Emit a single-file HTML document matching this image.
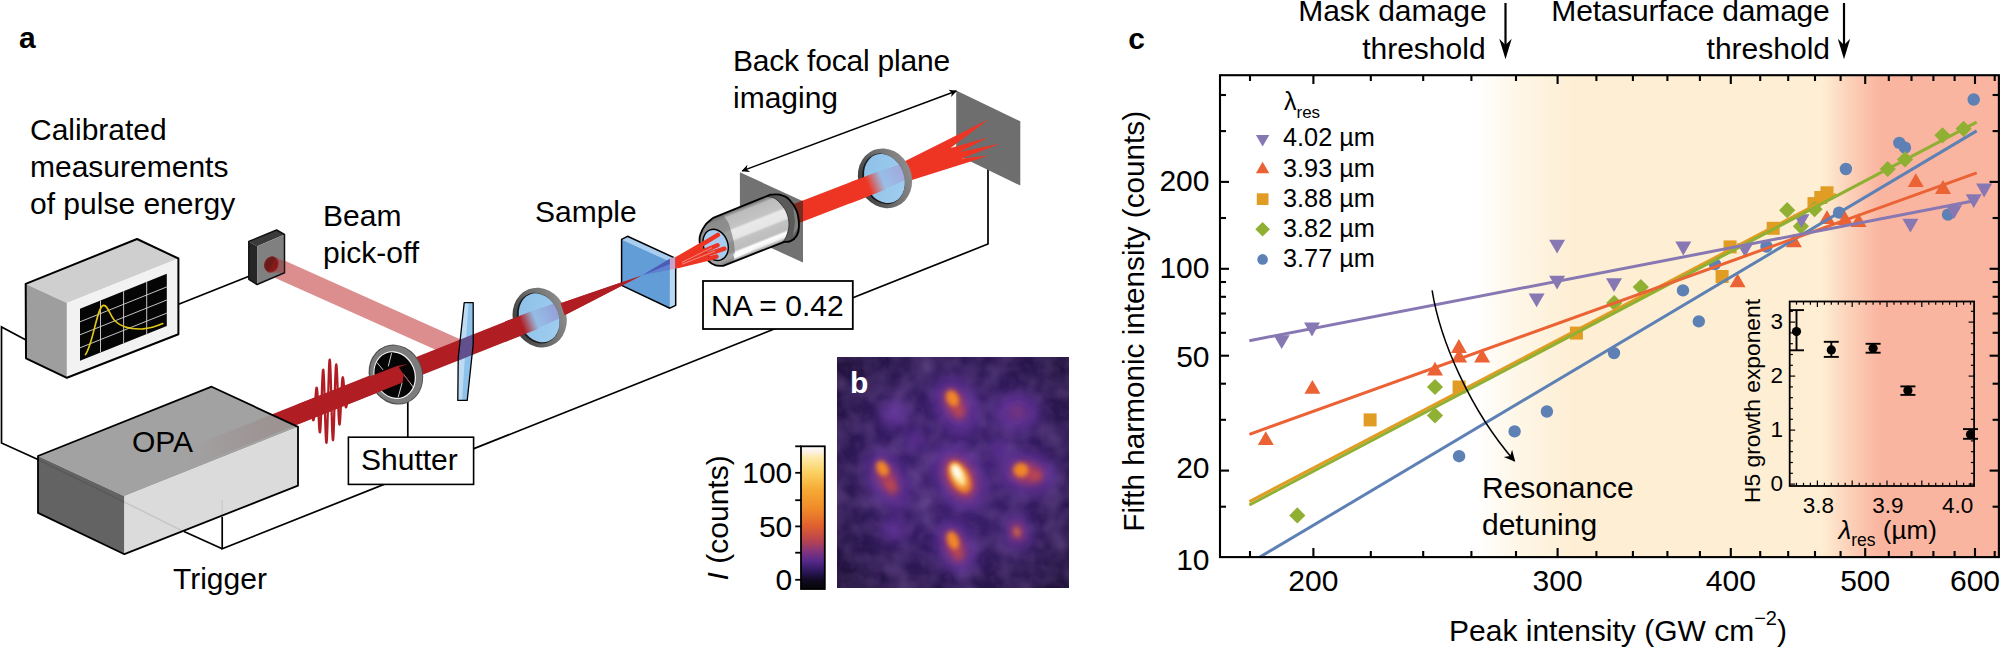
<!DOCTYPE html><html><head><meta charset="utf-8"><title>Figure</title>
<style>html,body{margin:0;padding:0;background:#fff;}svg{display:block;}text{font-family:"Liberation Sans", Arial, Helvetica, sans-serif;fill:#000;}</style></head><body>
<svg width="2000" height="647" viewBox="0 0 2000 647">
<rect width="2000" height="647" fill="#fff"/>
<defs>
<linearGradient id="bgc" gradientUnits="userSpaceOnUse" x1="1220" y1="0" x2="1999" y2="0">
<stop offset="0" stop-color="#ffffff"/>
<stop offset="0.3286" stop-color="#ffffff"/>
<stop offset="0.3851" stop-color="#fef6e6"/>
<stop offset="0.4557" stop-color="#feeed3"/>
<stop offset="0.7728" stop-color="#feeed3"/>
<stop offset="0.8087" stop-color="#fcd0b8"/>
<stop offset="0.8472" stop-color="#fab5a0"/>
<stop offset="1" stop-color="#fab5a0"/>
</linearGradient>
<linearGradient id="cbar" x1="0" y1="1" x2="0" y2="0">
<stop offset="0" stop-color="#050508"/>
<stop offset="0.06" stop-color="#100a20"/>
<stop offset="0.12" stop-color="#2a1758"/>
<stop offset="0.193" stop-color="#55288a"/>
<stop offset="0.254" stop-color="#7d3280"/>
<stop offset="0.34" stop-color="#b8444f"/>
<stop offset="0.439" stop-color="#df5f30"/>
<stop offset="0.562" stop-color="#f08a28"/>
<stop offset="0.70" stop-color="#f6ab35"/>
<stop offset="0.814" stop-color="#fad060"/>
<stop offset="0.92" stop-color="#fdeaa8"/>
<stop offset="0.97" stop-color="#fbf3ee"/>
<stop offset="1" stop-color="#ffffff"/>
</linearGradient>
<marker id="ah" viewBox="0 0 10 10" refX="9" refY="5" markerWidth="7.4" markerHeight="5.2" orient="auto-start-reverse"><path d="M0,0 L10,5 L0,10 L3,5 Z" fill="#000"/></marker><marker id="ah2" viewBox="0 0 10 10" refX="9" refY="5" markerWidth="9.6" markerHeight="7.4" orient="auto-start-reverse"><path d="M0,0 L10,5 L0,10 L3,5 Z" fill="#000"/></marker>
<filter id="blur4" x="-50%" y="-50%" width="200%" height="200%"><feGaussianBlur stdDeviation="4"/></filter>
<filter id="blur6" x="-50%" y="-50%" width="200%" height="200%"><feGaussianBlur stdDeviation="6"/></filter>
<filter id="blur3" x="-50%" y="-50%" width="200%" height="200%"><feGaussianBlur stdDeviation="3"/></filter>
<filter id="blur2" x="-50%" y="-50%" width="200%" height="200%"><feGaussianBlur stdDeviation="2.2"/></filter>
<filter id="noise" x="0" y="0" width="100%" height="100%"><feTurbulence type="fractalNoise" baseFrequency="0.045" numOctaves="2" seed="7" result="n"/><feColorMatrix in="n" type="matrix" values="0 0 0 0 0.42  0 0 0 0 0.24  0 0 0 0 0.62  1.6 0 0 0 -0.55"/></filter>
<filter id="noise2" x="0" y="0" width="100%" height="100%"><feTurbulence type="fractalNoise" baseFrequency="0.11" numOctaves="2" seed="3" result="n"/><feColorMatrix in="n" type="matrix" values="0 0 0 0 0.08  0 0 0 0 0.03  0 0 0 0 0.16  -1.8 0 0 0 1.0"/></filter>
<clipPath id="clipb"><rect x="837" y="357" width="232" height="231"/></clipPath>
<clipPath id="clipplot"><rect x="1220" y="75" width="780" height="482"/></clipPath>
</defs>
<g id="panelA">
<text x="19" y="48" font-size="30" font-weight="bold">a</text>
<text x="30" y="140" font-size="30">Calibrated</text>
<text x="30" y="177" font-size="30">measurements</text>
<text x="30" y="214" font-size="30">of pulse energy</text>
<text x="323" y="226" font-size="30">Beam</text>
<text x="323" y="263" font-size="30">pick-off</text>
<text x="535" y="221.5" font-size="30">Sample</text>
<text x="733" y="70.6" font-size="30" letter-spacing="-0.2">Back focal plane</text>
<text x="733" y="108.1" font-size="30">imaging</text>
<text x="173" y="589" font-size="30">Trigger</text>
<g fill="none" stroke="#000" stroke-width="1.7">
<path d="M988,168 L988,244 L222.2,548.8 L222.2,517"/>
<path d="M222.2,548.8 L184,531.5"/>
<path d="M26,340 L1.5,327 L1.5,443 L38,459.5"/>
<path d="M178,304.5 L249,276.3"/>
<path d="M407.8,400 L407.8,438"/>
</g>
<polygon points="268.0,253.2 463.5,340.7 463.5,362.3 268.0,274.8" fill="#b91e1e" fill-opacity="0.5"/>
<polygon points="248.8,241.4 276.6,230.0 284.5,234.5 257.1,246.3" fill="#3a3a3a"/>
<polygon points="248.8,241.4 257.1,246.3 257.1,284.5 248.8,279.3" fill="#262626"/>
<polygon points="257.1,246.3 284.5,234.5 284.5,272.7 257.1,284.5" fill="#808080"/>
<polygon points="248.8,241.4 276.6,230.0 284.5,234.5 284.5,272.7 257.1,284.5 248.8,279.3" fill="none" stroke="#111" stroke-width="1.5" stroke-linejoin="round"/>
<ellipse cx="271.3" cy="264.4" rx="6.6" ry="7.8" transform="rotate(25 271.3 264.4)" fill="#6b1a1a" stroke="#7e2424" stroke-width="1"/>
<polygon points="275.9,257.4 284.5,261.3 284.5,272.7 267.6,272.7 267.6,272.7" fill="#b91e1e" fill-opacity="0.35"/>
<polygon points="25.7,283.9 137.0,239.0 178.4,258.5 66.9,302.9" fill="#cfcfcf"/>
<polygon points="25.7,283.9 66.9,302.9 66.9,377.8 26.0,358.3" fill="#9e9e9e"/>
<polygon points="66.9,302.9 178.4,258.5 178.4,334.3 66.9,377.8" fill="#f2f2f2"/>
<polygon points="25.7,283.9 137.0,239.0 178.4,258.5 178.4,334.3 66.9,377.8 26.0,358.3" fill="none" stroke="#000" stroke-width="2" stroke-linejoin="round"/>
<polygon points="80.0,308.8 166.8,273.8 166.8,326.1 80.0,360.7" fill="#050505"/>
<g stroke="#d8d8d8" stroke-width="0.9" fill="none">
<line x1="100.5" y1="300.5" x2="100.5" y2="352.5"/>
<line x1="123.6" y1="291.2" x2="123.6" y2="343.3"/>
<line x1="146.7" y1="281.9" x2="146.7" y2="334.1"/>
<line x1="80" y1="321.8" x2="166.8" y2="286.9"/>
<line x1="80" y1="334.8" x2="166.8" y2="300.0"/>
<line x1="80" y1="347.8" x2="166.8" y2="313.1"/>
</g>
<path d="M85.4,354.6 C93,345 97,306 103.5,305.4 C108,305 109,314 114.5,320.5 C121,327 130,329.5 142.7,328.9 C150,328.3 157,326 162.8,323.5" fill="none" stroke="#e3c913" stroke-width="1.6" stroke-linecap="round"/>
<defs><linearGradient id="opaf" gradientUnits="userSpaceOnUse" x1="185" y1="0" x2="270" y2="0"><stop offset="0" stop-color="#b01e23" stop-opacity="0"/><stop offset="1" stop-color="#b01e23" stop-opacity="1"/></linearGradient></defs>
<polygon points="185.0,449.0 272.0,414.3 272.0,434.7 185.0,469.4" fill="url(#opaf)"/>
<polygon points="271.0,414.7 530.0,311.7 530.0,332.1 271.0,435.1" fill="#b01e23"/>
<polyline points="306.00,413.72 306.25,414.13 306.50,414.38 306.75,414.46 307.00,414.31 307.25,413.93 307.50,413.30 307.75,412.44 308.00,411.36 308.25,410.11 308.50,408.73 308.75,407.31 309.00,405.92 309.25,404.64 309.50,403.56 309.75,402.75 310.00,402.30 310.25,402.25 310.50,402.65 310.75,403.49 311.00,404.76 311.25,406.41 311.50,408.37 311.75,410.54 312.00,412.79 312.25,414.98 312.50,416.97 312.75,418.61 313.00,419.76 313.25,420.31 313.50,420.18 313.75,419.30 314.00,417.68 314.25,415.35 314.50,412.40 314.75,408.96 315.00,405.19 315.25,401.30 315.50,397.52 315.75,394.07 316.00,391.18 316.25,389.05 316.50,387.87 316.75,387.74 317.00,388.75 317.25,390.88 317.50,394.08 317.75,398.19 318.00,403.03 318.25,408.32 318.50,413.77 318.75,419.06 319.00,423.85 319.25,427.82 319.50,430.69 319.75,432.23 320.00,432.27 320.25,430.74 320.50,427.66 320.75,423.14 321.00,417.38 321.25,410.67 321.50,403.36 321.75,395.87 322.00,388.61 322.25,382.04 322.50,376.55 322.75,372.50 323.00,370.17 323.25,369.76 323.50,371.32 323.75,374.83 324.00,380.13 324.25,386.93 324.50,394.89 324.75,403.54 325.00,412.39 325.25,420.92 325.50,428.62 325.75,435.00 326.00,439.67 326.25,442.32 326.50,442.74 326.75,440.89 327.00,436.82 327.25,430.74 327.50,422.99 327.75,413.97 328.00,404.22 328.25,394.27 328.50,384.71 328.75,376.09 329.00,368.91 329.25,363.58 329.50,360.42 329.75,359.60 330.00,361.17 330.25,365.03 330.50,370.94 330.75,378.56 331.00,387.42 331.25,397.00 331.50,406.74 331.75,416.07 332.00,424.44 332.25,431.37 332.50,436.47 332.75,439.47 333.00,440.22 333.25,438.69 333.50,435.01 333.75,429.41 334.00,422.25 334.25,413.96 334.50,405.04 334.75,396.01 335.00,387.38 335.25,379.63 335.50,373.19 335.75,368.39 336.00,365.44 336.25,364.47 336.50,365.47 336.75,368.31 337.00,372.78 337.25,378.55 337.50,385.25 337.75,392.45 338.00,399.73 338.25,406.64 338.50,412.81 338.75,417.91 339.00,421.67 339.25,423.94 339.50,424.64 339.75,423.78 340.00,421.49 340.25,417.95 340.50,413.42 340.75,408.19 341.00,402.60 341.25,396.97 341.50,391.63 341.75,386.86 342.00,382.89 342.25,379.91 342.50,378.02 342.75,377.27 343.00,377.63 343.25,379.01 343.50,381.27 343.75,384.21 344.00,387.62 344.25,391.28 344.50,394.94 344.75,398.41 345.00,401.47 345.25,403.99 345.50,405.84 345.75,406.97 346.00,407.34 346.25,407.00 346.50,405.99 346.75,404.43 347.00,402.44 347.25,400.15 347.50,397.72 347.75,395.29 348.00,392.99 348.25,390.94 348.50,389.23 348.75,387.93 349.00,387.07 349.25,386.66 349.50,386.68 349.75,387.08 350.00,387.80 350.25,388.77 350.50,389.91 350.75,391.13 351.00,392.34 351.25,393.47 351.50,394.46 351.75,395.26 352.00,395.83 352.25,396.16 352.50,396.25 352.75,396.11 353.00,395.75 353.25,395.23 353.50,394.58 353.75,393.85 354.00,393.08" fill="none" stroke="#b01e23" stroke-width="2.3" stroke-linejoin="round"/>
<g opacity="0.93">
<polygon points="38.0,456.0 211.6,386.7 298.0,426.9 124.4,496.2" fill="#9c9c9c"/>
<polygon points="38.0,456.0 124.4,496.2 124.4,554.2 38.0,512.9" fill="#585858"/>
<polygon points="124.4,496.2 298.0,426.9 298.0,485.6 124.4,554.2" fill="#d9d9d9"/>
</g>
<polygon points="38.0,456.0 211.6,386.7 298.0,426.9 298.0,485.6 124.4,554.2 38.0,512.9" fill="none" stroke="#000" stroke-width="1.8" stroke-linejoin="round"/>
<line x1="38" y1="459.5" x2="184.5" y2="531.8" stroke="#000" stroke-width="1.4" stroke-opacity="0.1"/>
<line x1="222.2" y1="517" x2="222.2" y2="500" stroke="#000" stroke-width="1.4" stroke-opacity="0.08"/>
<text x="132" y="452" font-size="30">OPA</text>
<g transform="translate(395.9 374.6) rotate(-21.7)"><ellipse rx="26.8" ry="30.5" fill="#505050"/><ellipse cx="0.3" rx="25.6" ry="29.5" fill="#7c7c7c"/><ellipse cx="-1.3" rx="20.8" ry="24.4" fill="#f4f4f4"/><ellipse cx="-1.4" rx="19.7" ry="23.2" fill="#050505"/></g>
<g stroke="#fff" stroke-width="0.8" stroke-linecap="round">
<line x1="377.2" y1="362.8" x2="382.8" y2="369.6"/>
<line x1="391.5" y1="353.5" x2="388.4" y2="365.9"/>
<line x1="413.1" y1="386.9" x2="403.8" y2="374.6"/>
<line x1="398.3" y1="396.8" x2="402.0" y2="383.2"/>
<line x1="380.0" y1="389.0" x2="392.0" y2="383.0"/>
</g>
<polygon points="297.0,404.4 397.0,365.9 408.0,364.1 398.8,367.3 403.8,374.6 402.6,382.6 297.0,424.8" fill="#b01e23"/>
<line x1="404" y1="375" x2="410" y2="383" stroke="#b01e23" stroke-width="0.7"/>
<rect x="348.4" y="437.2" width="125.2" height="47.2" fill="#fff" stroke="#000" stroke-width="1.6"/>
<text x="361" y="470" font-size="30">Shutter</text>
<clipPath id="bscl"><polygon points="464.2,302.7 473.2,302.7 473.2,344.2 467.2,400.4 457.8,400.4 458.2,358.3"/></clipPath>
<polygon points="464.2,302.7 473.2,302.7 473.2,344.2 467.2,400.4 457.8,400.4 458.2,358.3" fill="#8fc2ea"/>
<polygon points="464.2,302.7 468.5,302.7 462.0,400.4 457.8,400.4 458.2,358.3" fill="#bddcf4"/>
<g clip-path="url(#bscl)"><polygon points="440.0,347.5 490.0,327.6 490.0,348.0 440.0,367.9" fill="#62508e"/></g>
<polygon points="464.2,302.7 473.2,302.7 473.2,344.2 467.2,400.4 457.8,400.4 458.2,358.3" fill="none" stroke="#000" stroke-width="1.3" stroke-linejoin="round"/>
<defs><linearGradient id="ringg" x1="0" y1="0" x2="1" y2="0"><stop offset="0" stop-color="#3c3c3c"/><stop offset="0.45" stop-color="#6a6a6a"/><stop offset="1" stop-color="#8c8c8c"/></linearGradient>
<linearGradient id="glass" x1="0" y1="0" x2="1" y2="1"><stop offset="0" stop-color="#8bbfe8"/><stop offset="1" stop-color="#a3cff0"/></linearGradient>
<linearGradient id="fadeL2" gradientUnits="userSpaceOnUse" x1="522" y1="325.0" x2="536" y2="319.5"><stop offset="0" stop-color="#b01e23" stop-opacity="1"/><stop offset="1" stop-color="#b01e23" stop-opacity="0"/></linearGradient>
<linearGradient id="fadeL2b" gradientUnits="userSpaceOnUse" x1="530" y1="321.9" x2="562" y2="309.1"><stop offset="0" stop-color="#8a6fc0" stop-opacity="0"/><stop offset="1" stop-color="#8a6fc0" stop-opacity="0.55"/></linearGradient>
</defs>
<polygon points="540.0,308.7 560.6,303.2 642.2,275.3 564.6,315.3 540.0,327.1" fill="#b01e23"/>
<g transform="translate(539.7 317.6) rotate(-21.7)"><ellipse rx="26.6" ry="30.4" fill="url(#ringg)"/><ellipse cx="-1.6" cy="0" rx="20.6" ry="26" fill="#1a1a1a"/><ellipse cx="-0.6" cy="0" rx="19.6" ry="25.2" fill="url(#glass)"/></g>
<polygon points="505.0,321.6 546.0,305.3 546.0,325.7 505.0,342.0" fill="url(#fadeL2)"/>
<clipPath id="l2cl"><ellipse transform="translate(539.1 317.6) rotate(-21.7)" rx="19.6" ry="25.2"/></clipPath>
<g clip-path="url(#l2cl)"><polygon points="525.0,313.6 565.0,299.7 565.0,316.1 525.0,334.0" fill="url(#fadeL2b)"/></g>
<polygon points="621.6,239.4 627.5,236.3 675.7,258.4 669.9,261.6" fill="#a9cdee"/>
<polygon points="669.9,261.6 675.7,258.4 675.7,305.3 669.9,308.2" fill="#b8d7f1"/>
<polygon points="621.6,239.4 669.9,261.6 669.9,308.2 621.6,285.4" fill="#629dd7"/>
<polygon points="621.6,239.4 627.5,236.3 675.7,258.4 675.7,305.3 669.9,308.2 621.6,285.4" fill="none" stroke="#000" stroke-width="1.5" stroke-linejoin="round"/>
<polygon points="560.6,303.2 642.2,275.3 564.6,315.3" fill="#b01e23"/>
<polygon points="642.2,275.3 669.9,258.8 669.9,269.8" fill="#5f7fd0"/>
<polygon points="642.2,275.3 669.9,258.8 669.9,264.0" fill="#4a5cb8"/>
<polygon points="669.9,258.8 675.7,256.5 675.7,268.4 669.9,269.8" fill="#c9a3c9"/>
<polygon points="956.2,90.5 1020.3,121.3 1020.3,185.6 956.2,154.4" fill="#6e6e6e"/>
<polygon points="739.9,172.2 803.0,201.3 803.0,262.6 739.9,233.5" fill="#727272"/>
<polygon points="790.0,205.6 880.0,170.7 880.0,191.7 790.0,226.6" fill="#ee3524"/>
<polygon points="790.0,205.6 803.0,200.6 803.0,221.6 790.0,226.6" fill="#7b2a22"/>
<polygon points="885.0,169.8 900.3,163.5 988.7,119.2 950.6,148.0 988.7,137.3 959.6,152.0 1000.8,143.4 961.6,158.4 988.7,155.4 970.7,161.5 910.4,180.6 885.0,188.8" fill="#ee3524"/>
<defs><linearGradient id="fadeL3" gradientUnits="userSpaceOnUse" x1="868" y1="185.9" x2="883" y2="180.1"><stop offset="0" stop-color="#ee3524" stop-opacity="1"/><stop offset="1" stop-color="#ee3524" stop-opacity="0"/></linearGradient>
<linearGradient id="fadeL3b" gradientUnits="userSpaceOnUse" x1="876" y1="182.8" x2="908" y2="170.4"><stop offset="0" stop-color="#9a7fd0" stop-opacity="0"/><stop offset="1" stop-color="#b07ac0" stop-opacity="0.5"/></linearGradient></defs>
<g transform="translate(885.0 178.3) rotate(-21.7)"><ellipse rx="26.6" ry="30.4" fill="url(#ringg)"/><ellipse cx="-1.6" cy="0" rx="20.6" ry="26" fill="#1a1a1a"/><ellipse cx="-0.6" cy="0" rx="19.6" ry="25.2" fill="url(#glass)"/></g>
<polygon points="850.0,182.4 892.0,166.1 892.0,187.1 850.0,203.4" fill="url(#fadeL3)"/>
<clipPath id="l3cl"><ellipse transform="translate(884.4 178.3) rotate(-21.7)" rx="19.6" ry="25.2"/></clipPath>
<g clip-path="url(#l3cl)"><polygon points="870.0,174.6 910.0,161.1 910.0,178.1 870.0,195.6" fill="url(#fadeL3b)"/></g>
<defs><linearGradient id="cyl" gradientUnits="userSpaceOnUse" x1="738" y1="206" x2="756.5" y2="252.5"><stop offset="0" stop-color="#5f5f5f"/><stop offset="0.07" stop-color="#858585"/><stop offset="0.13" stop-color="#bcbcbc"/><stop offset="0.36" stop-color="#c4c4c4"/><stop offset="0.41" stop-color="#e9e9e9"/><stop offset="0.58" stop-color="#e6e6e6"/><stop offset="0.63" stop-color="#c3c3c3"/><stop offset="0.80" stop-color="#bdbdbd"/><stop offset="0.85" stop-color="#ffffff"/><stop offset="0.92" stop-color="#f2f2f2"/><stop offset="1" stop-color="#8c8c8c"/></linearGradient><clipPath id="objcl"><path d="M723.2,265.8 C721.9,265.7 717.9,266.2 715.5,265.4 C713.1,264.6 710.9,263.6 708.6,261.2 C706.3,258.8 703.1,254.4 701.6,251.1 C700.1,247.8 699.8,243.9 699.6,241.1 C699.4,238.3 699.5,236.8 700.5,234.1 C701.5,231.4 703.4,227.5 705.5,224.8 C707.6,222.1 711.9,219.1 713.2,217.9 L770.4,194.7 C772.0,194.7 776.6,193.9 779.7,194.7 C782.8,195.5 786.2,196.6 789.0,199.3 C791.8,202.0 795.0,206.4 796.7,210.9 C798.4,215.4 799.0,222.3 799.0,226.4 C799.0,230.5 798.1,233.2 796.7,235.7 C795.3,238.1 792.6,240.1 790.5,241.1 C788.4,242.1 785.3,241.8 784.3,241.9 Z"/></clipPath></defs>
<path d="M723.2,265.8 C721.9,265.7 717.9,266.2 715.5,265.4 C713.1,264.6 710.9,263.6 708.6,261.2 C706.3,258.8 703.1,254.4 701.6,251.1 C700.1,247.8 699.8,243.9 699.6,241.1 C699.4,238.3 699.5,236.8 700.5,234.1 C701.5,231.4 703.4,227.5 705.5,224.8 C707.6,222.1 711.9,219.1 713.2,217.9 L770.4,194.7 C772.0,194.7 776.6,193.9 779.7,194.7 C782.8,195.5 786.2,196.6 789.0,199.3 C791.8,202.0 795.0,206.4 796.7,210.9 C798.4,215.4 799.0,222.3 799.0,226.4 C799.0,230.5 798.1,233.2 796.7,235.7 C795.3,238.1 792.6,240.1 790.5,241.1 C788.4,242.1 785.3,241.8 784.3,241.9 Z" fill="url(#cyl)"/>
<g clip-path="url(#objcl)">
<path d="M766.5,196.2 C767.9,196.6 772.3,196.8 775.0,198.5 C777.7,200.2 780.7,203.6 782.8,206.3 C784.9,209.1 786.5,211.9 787.5,215.0 C788.5,218.1 789.0,221.8 789.0,224.8 C789.0,227.8 788.2,230.5 787.5,233.0 C786.8,235.5 785.6,238.2 784.5,240.0 C783.4,241.8 781.6,242.9 781.0,243.5 L800,250 L806,220 L790,185 Z" fill="#5a5a5a"/>
<path d="M766.5,196.2 C767.9,196.6 772.3,196.8 775.0,198.5 C777.7,200.2 780.7,203.6 782.8,206.3 C784.9,209.1 786.5,211.9 787.5,215.0 C788.5,218.1 789.0,221.8 789.0,224.8 C789.0,227.8 788.2,230.5 787.5,233.0 C786.8,235.5 785.6,238.2 784.5,240.0 C783.4,241.8 781.6,242.9 781.0,243.5" fill="none" stroke="#2a2a2a" stroke-width="0.8"/>
<path d="M793,236 L799,226 L797,214 L793,205 L795,222 Z" fill="#8a8a8a" fill-opacity="0.8"/>
<path d="M722.0,214.0 C723.0,215.3 726.5,219.2 728.0,222.0 C729.5,224.8 730.0,227.5 731.0,231.0 C732.0,234.5 733.4,239.1 734.0,243.0 C734.6,246.9 735.0,250.9 734.8,254.2 C734.6,257.5 733.8,260.4 733.0,263.0 C732.2,265.6 730.5,268.8 730.0,270.0 L700,280 L690,240 L705,205 Z" fill="#6e6e6e" fill-opacity="0.62"/>
<path d="M733,254 L752,247.5 L752.5,250.5 L734.5,258.5 Z" fill="#fff" fill-opacity="0.8"/>
</g>
<path d="M723.2,265.8 C721.9,265.7 717.9,266.2 715.5,265.4 C713.1,264.6 710.9,263.6 708.6,261.2 C706.3,258.8 703.1,254.4 701.6,251.1 C700.1,247.8 699.8,243.9 699.6,241.1 C699.4,238.3 699.5,236.8 700.5,234.1 C701.5,231.4 703.4,227.5 705.5,224.8 C707.6,222.1 711.9,219.1 713.2,217.9 L770.4,194.7 C772.0,194.7 776.6,193.9 779.7,194.7 C782.8,195.5 786.2,196.6 789.0,199.3 C791.8,202.0 795.0,206.4 796.7,210.9 C798.4,215.4 799.0,222.3 799.0,226.4 C799.0,230.5 798.1,233.2 796.7,235.7 C795.3,238.1 792.6,240.1 790.5,241.1 C788.4,242.1 785.3,241.8 784.3,241.9 Z" fill="none" stroke="#000" stroke-width="1.8" stroke-linejoin="round"/>
<g transform="translate(715.6 244.9) rotate(-20)"><ellipse rx="12.2" ry="16" fill="#a9cdee" stroke="#000" stroke-width="1.4"/></g>
<polygon points="675.7,257.0 703.0,241.2 703.0,261.5 675.7,268.3" fill="#ee3524"/>
<line x1="677.5" y1="259.4" x2="717.9" y2="234.8" stroke="#ee3524" stroke-width="4.4" stroke-linecap="round"/>
<line x1="677.5" y1="262.0" x2="717.5" y2="245.2" stroke="#ee3524" stroke-width="4.4" stroke-linecap="round"/>
<line x1="677.5" y1="264.2" x2="724.4" y2="248.7" stroke="#ee3524" stroke-width="4.4" stroke-linecap="round"/>
<line x1="677.5" y1="266.0" x2="716.5" y2="256.6" stroke="#ee3524" stroke-width="4.4" stroke-linecap="round"/>
<line x1="682" y1="262.3" x2="712" y2="247.6" stroke="#fff" stroke-width="0.5" stroke-opacity="0.85"/>
<line x1="682" y1="264.2" x2="715" y2="251.2" stroke="#fff" stroke-width="0.5" stroke-opacity="0.85"/>
<line x1="742.2" y1="170.9" x2="956.3" y2="91" stroke="#000" stroke-width="1.5" marker-start="url(#ah)" marker-end="url(#ah)"/>
<rect x="703" y="281" width="149.8" height="48" fill="#fff" stroke="#000" stroke-width="1.8"/>
<text x="711" y="316" font-size="30">NA = 0.42</text>
</g>
<g id="panelB">
<defs><radialGradient id="bgb" gradientUnits="userSpaceOnUse" cx="956" cy="470" r="175"><stop offset="0" stop-color="#402274"/><stop offset="0.45" stop-color="#341c62"/><stop offset="0.72" stop-color="#28164b"/><stop offset="1" stop-color="#1a0f30"/></radialGradient></defs>
<rect x="837" y="357" width="232" height="231" fill="url(#bgb)"/>
<g clip-path="url(#clipb)">
<rect x="837" y="357" width="232" height="231" filter="url(#noise)" opacity="0.38"/>
<rect x="837" y="357" width="232" height="231" filter="url(#noise2)" opacity="0.55"/>
<ellipse cx="960.0" cy="478.0" rx="25.0" ry="35.0" transform="rotate(-28 960.0 478.0)" fill="#6732a0" fill-opacity="0.70" filter="url(#blur6)"/>
<ellipse cx="956.0" cy="406.0" rx="22.0" ry="31.0" transform="rotate(-25 956.0 406.0)" fill="#6732a0" fill-opacity="0.70" filter="url(#blur6)"/>
<ellipse cx="888.0" cy="480.0" rx="20.0" ry="32.0" transform="rotate(-28 888.0 480.0)" fill="#6732a0" fill-opacity="0.70" filter="url(#blur6)"/>
<ellipse cx="1028.0" cy="473.0" rx="30.0" ry="22.0" transform="rotate(10 1028.0 473.0)" fill="#6732a0" fill-opacity="0.70" filter="url(#blur6)"/>
<ellipse cx="956.0" cy="547.0" rx="20.0" ry="29.0" transform="rotate(-20 956.0 547.0)" fill="#6732a0" fill-opacity="0.70" filter="url(#blur6)"/>
<ellipse cx="1018.0" cy="533.0" rx="15.0" ry="19.0" transform="rotate(-15 1018.0 533.0)" fill="#6732a0" fill-opacity="0.70" filter="url(#blur6)"/>
<ellipse cx="1017.0" cy="412.0" rx="24.0" ry="20.0" transform="rotate(0 1017.0 412.0)" fill="#6732a0" fill-opacity="0.70" filter="url(#blur6)"/>
<ellipse cx="894.0" cy="529.0" rx="13.0" ry="13.0" transform="rotate(0 894.0 529.0)" fill="#6732a0" fill-opacity="0.70" filter="url(#blur6)"/>
<ellipse cx="894.0" cy="414.0" rx="14.0" ry="15.0" transform="rotate(0 894.0 414.0)" fill="#6732a0" fill-opacity="0.70" filter="url(#blur6)"/>
<ellipse cx="1000.0" cy="450.0" rx="10.0" ry="10.0" transform="rotate(0 1000.0 450.0)" fill="#6732a0" fill-opacity="0.70" filter="url(#blur6)"/>
<ellipse cx="915.0" cy="440.0" rx="10.0" ry="10.0" transform="rotate(0 915.0 440.0)" fill="#6732a0" fill-opacity="0.70" filter="url(#blur6)"/>
<ellipse cx="960.0" cy="478.0" rx="14.0" ry="22.0" transform="rotate(-28 960.0 478.0)" fill="#b53f5c" fill-opacity="0.90" filter="url(#blur4)"/>
<ellipse cx="955.0" cy="404.0" rx="9.0" ry="16.0" transform="rotate(-25 955.0 404.0)" fill="#b53f5c" fill-opacity="0.90" filter="url(#blur4)"/>
<ellipse cx="887.0" cy="478.0" rx="8.0" ry="18.0" transform="rotate(-28 887.0 478.0)" fill="#b53f5c" fill-opacity="0.90" filter="url(#blur4)"/>
<ellipse cx="1027.0" cy="473.0" rx="16.0" ry="10.5" transform="rotate(12 1027.0 473.0)" fill="#b53f5c" fill-opacity="0.90" filter="url(#blur4)"/>
<ellipse cx="955.0" cy="546.0" rx="8.5" ry="16.0" transform="rotate(-20 955.0 546.0)" fill="#b53f5c" fill-opacity="0.90" filter="url(#blur4)"/>
<ellipse cx="1017.0" cy="532.0" rx="5.5" ry="8.5" transform="rotate(-15 1017.0 532.0)" fill="#b53f5c" fill-opacity="0.90" filter="url(#blur4)"/>
<ellipse cx="958.5" cy="411.0" rx="3.5" ry="6.5" transform="rotate(-25 958.5 411.0)" fill="#d4552f" fill-opacity="0.55" filter="url(#blur3)"/>
<ellipse cx="891.0" cy="486.0" rx="3.5" ry="7.5" transform="rotate(-28 891.0 486.0)" fill="#d4552f" fill-opacity="0.60" filter="url(#blur3)"/>
<ellipse cx="1036.0" cy="476.0" rx="5.0" ry="4.5" transform="rotate(0 1036.0 476.0)" fill="#d4552f" fill-opacity="0.60" filter="url(#blur3)"/>
<ellipse cx="958.5" cy="553.5" rx="3.5" ry="5.5" transform="rotate(-20 958.5 553.5)" fill="#d4552f" fill-opacity="0.50" filter="url(#blur3)"/>
<ellipse cx="959.5" cy="477.0" rx="9.5" ry="17.0" transform="rotate(-28 959.5 477.0)" fill="#f38a25" fill-opacity="0.95" filter="url(#blur2)"/>
<ellipse cx="952.5" cy="398.5" rx="6.0" ry="8.5" transform="rotate(-25 952.5 398.5)" fill="#f38a25" fill-opacity="0.95" filter="url(#blur2)"/>
<ellipse cx="882.5" cy="468.5" rx="5.5" ry="8.0" transform="rotate(-28 882.5 468.5)" fill="#f38a25" fill-opacity="0.95" filter="url(#blur2)"/>
<ellipse cx="1021.0" cy="470.0" rx="7.5" ry="7.0" transform="rotate(10 1021.0 470.0)" fill="#f38a25" fill-opacity="0.95" filter="url(#blur2)"/>
<ellipse cx="953.0" cy="540.5" rx="5.5" ry="9.5" transform="rotate(-20 953.0 540.5)" fill="#f38a25" fill-opacity="0.95" filter="url(#blur2)"/>
<ellipse cx="1017.0" cy="532.0" rx="3.2" ry="5.0" transform="rotate(-15 1017.0 532.0)" fill="#f38a25" fill-opacity="0.47" filter="url(#blur2)"/>
<ellipse cx="1017.0" cy="412.0" rx="9.0" ry="7.0" transform="rotate(0 1017.0 412.0)" fill="#8f356b" fill-opacity="0.50" filter="url(#blur4)"/>
<ellipse cx="958.5" cy="475.0" rx="5.5" ry="12.0" transform="rotate(-28 958.5 475.0)" fill="#fde59a" fill-opacity="1.00" filter="url(#blur2)"/>
<ellipse cx="957.0" cy="472.0" rx="3.0" ry="7.0" transform="rotate(-28 957.0 472.0)" fill="#ffffff" fill-opacity="1.00" filter="url(#blur2)"/>
</g>
<text x="850" y="393" font-size="30" font-weight="bold" style="fill:#fff">b</text>
<rect x="801" y="446.3" width="23.8" height="142.7" fill="url(#cbar)" stroke="#000" stroke-width="1.8"/>
<g stroke="#000" stroke-width="1.8">
<line x1="795.2" y1="446.3" x2="801" y2="446.3"/>
<line x1="795.2" y1="472.8" x2="801" y2="472.8"/>
<line x1="795.2" y1="500.2" x2="801" y2="500.2"/>
<line x1="795.2" y1="526.4" x2="801" y2="526.4"/>
<line x1="795.2" y1="552.7" x2="801" y2="552.7"/>
<line x1="795.2" y1="579.8" x2="801" y2="579.8"/>
</g>
<text x="792.3" y="483.1" font-size="30" text-anchor="end">100</text>
<text x="792.3" y="536.7" font-size="30" text-anchor="end">50</text>
<text x="792.3" y="590.1" font-size="30" text-anchor="end">0</text>
<text transform="translate(728 580.4) rotate(-90)" font-size="30"><tspan font-style="italic">I</tspan> (counts)</text>
</g>
<g id="panelC">
<text x="1128.3" y="48.7" font-size="30" font-weight="bold">c</text>
<rect x="1220" y="75" width="780" height="482" fill="url(#bgc)"/>
<circle cx="1973.7" cy="99.5" r="6.2" fill="#5e81b5"/>
<circle cx="1899.3" cy="142.9" r="6.2" fill="#5e81b5"/>
<circle cx="1905.0" cy="147.7" r="6.2" fill="#5e81b5"/>
<circle cx="1845.9" cy="169.0" r="6.2" fill="#5e81b5"/>
<circle cx="1948.0" cy="214.6" r="6.2" fill="#5e81b5"/>
<circle cx="1839.1" cy="212.6" r="6.2" fill="#5e81b5"/>
<circle cx="1766.5" cy="246.5" r="6.2" fill="#5e81b5"/>
<circle cx="1714.9" cy="264.1" r="6.2" fill="#5e81b5"/>
<circle cx="1683.0" cy="290.4" r="6.2" fill="#5e81b5"/>
<circle cx="1698.8" cy="321.4" r="6.2" fill="#5e81b5"/>
<circle cx="1614.0" cy="353.1" r="6.2" fill="#5e81b5"/>
<circle cx="1546.9" cy="411.5" r="6.2" fill="#5e81b5"/>
<circle cx="1514.6" cy="431.4" r="6.2" fill="#5e81b5"/>
<circle cx="1459.1" cy="456.2" r="6.2" fill="#5e81b5"/>
<rect x="1820.5" y="186.3" width="13.0" height="13.0" fill="#e19c24"/>
<rect x="1814.3" y="191.0" width="13.0" height="13.0" fill="#e19c24"/>
<rect x="1807.5" y="197.1" width="13.0" height="13.0" fill="#e19c24"/>
<rect x="1766.7" y="221.8" width="13.0" height="13.0" fill="#e19c24"/>
<rect x="1723.6" y="240.4" width="13.0" height="13.0" fill="#e19c24"/>
<rect x="1715.6" y="270.0" width="13.0" height="13.0" fill="#e19c24"/>
<rect x="1569.9" y="326.6" width="13.0" height="13.0" fill="#e19c24"/>
<rect x="1452.6" y="380.5" width="13.0" height="13.0" fill="#e19c24"/>
<rect x="1363.6" y="413.4" width="13.0" height="13.0" fill="#e19c24"/>
<polygon points="1955.5,128.8 1963.6,120.7 1971.7,128.8 1963.6,136.9" fill="#8fb032"/>
<polygon points="1934.4,135.3 1942.5,127.2 1950.6,135.3 1942.5,143.4" fill="#8fb032"/>
<polygon points="1896.9,159.4 1905.0,151.3 1913.1,159.4 1905.0,167.5" fill="#8fb032"/>
<polygon points="1879.6,169.0 1887.7,160.9 1895.8,169.0 1887.7,177.1" fill="#8fb032"/>
<polygon points="1779.1,210.2 1787.2,202.1 1795.3,210.2 1787.2,218.3" fill="#8fb032"/>
<polygon points="1806.5,209.2 1814.6,201.1 1822.7,209.2 1814.6,217.3" fill="#8fb032"/>
<polygon points="1792.8,226.3 1800.9,218.2 1809.0,226.3 1800.9,234.4" fill="#8fb032"/>
<polygon points="1632.7,287.1 1640.8,279.0 1648.9,287.1 1640.8,295.2" fill="#8fb032"/>
<polygon points="1606.1,303.0 1614.2,294.9 1622.3,303.0 1614.2,311.1" fill="#8fb032"/>
<polygon points="1426.9,387.0 1435.0,378.9 1443.1,387.0 1435.0,395.1" fill="#8fb032"/>
<polygon points="1426.9,415.5 1435.0,407.4 1443.1,415.5 1435.0,423.6" fill="#8fb032"/>
<polygon points="1289.2,515.4 1297.3,507.3 1305.4,515.4 1297.3,523.5" fill="#8fb032"/>
<polygon points="1907.8,187.1 1923.8,187.1 1915.8,173.3" fill="#eb6235"/>
<polygon points="1935.0,193.9 1951.0,193.9 1943.0,180.1" fill="#eb6235"/>
<polygon points="1819.0,224.1 1835.0,224.1 1827.0,210.3" fill="#eb6235"/>
<polygon points="1837.1,225.1 1853.1,225.1 1845.1,211.3" fill="#eb6235"/>
<polygon points="1850.6,227.1 1866.6,227.1 1858.6,213.3" fill="#eb6235"/>
<polygon points="1785.9,247.2 1801.9,247.2 1793.9,233.4" fill="#eb6235"/>
<polygon points="1729.6,287.2 1745.6,287.2 1737.6,273.4" fill="#eb6235"/>
<polygon points="1450.9,352.9 1466.9,352.9 1458.9,339.1" fill="#eb6235"/>
<polygon points="1451.1,362.6 1467.1,362.6 1459.1,348.8" fill="#eb6235"/>
<polygon points="1474.1,362.6 1490.1,362.6 1482.1,348.8" fill="#eb6235"/>
<polygon points="1427.0,375.6 1443.0,375.6 1435.0,361.8" fill="#eb6235"/>
<polygon points="1304.4,393.7 1320.4,393.7 1312.4,379.9" fill="#eb6235"/>
<polygon points="1257.8,445.0 1273.8,445.0 1265.8,431.2" fill="#eb6235"/>
<polygon points="1976.1,183.6 1992.1,183.6 1984.1,197.4" fill="#8778b3"/>
<polygon points="1965.7,194.3 1981.7,194.3 1973.7,208.1" fill="#8778b3"/>
<polygon points="1946.0,205.3 1962.0,205.3 1954.0,219.1" fill="#8778b3"/>
<polygon points="1902.4,218.7 1918.4,218.7 1910.4,232.5" fill="#8778b3"/>
<polygon points="1793.5,214.3 1809.5,214.3 1801.5,228.1" fill="#8778b3"/>
<polygon points="1737.0,243.5 1753.0,243.5 1745.0,257.3" fill="#8778b3"/>
<polygon points="1675.3,241.6 1691.3,241.6 1683.3,255.4" fill="#8778b3"/>
<polygon points="1606.0,278.2 1622.0,278.2 1614.0,292.0" fill="#8778b3"/>
<polygon points="1549.1,239.8 1565.1,239.8 1557.1,253.6" fill="#8778b3"/>
<polygon points="1549.1,275.7 1565.1,275.7 1557.1,289.5" fill="#8778b3"/>
<polygon points="1528.6,293.4 1544.6,293.4 1536.6,307.2" fill="#8778b3"/>
<polygon points="1273.7,335.3 1289.7,335.3 1281.7,349.1" fill="#8778b3"/>
<polygon points="1304.0,322.6 1320.0,322.6 1312.0,336.4" fill="#8778b3"/>
<g clip-path="url(#clipplot)" fill="none" stroke-width="3" stroke-linecap="butt">
<line x1="1249.4" y1="563.3" x2="1976.7" y2="130.9" stroke="#5e81b5"/>
<line x1="1249.4" y1="501.6" x2="1836.0" y2="194.2" stroke="#e19c24"/>
<line x1="1249.4" y1="505.0" x2="1976.7" y2="122.2" stroke="#8fb032"/>
<line x1="1249.4" y1="434.3" x2="1976.7" y2="172.8" stroke="#eb6235"/>
<line x1="1249.4" y1="340.7" x2="1977.0" y2="200.3" stroke="#8778b3"/>
</g>
<g stroke="#000" stroke-width="2.1" fill="none">
<rect x="1220" y="75.2" width="778.9" height="481.9"/>
<line x1="1250.0" y1="557" x2="1250.0" y2="551.0"/>
<line x1="1250.0" y1="75" x2="1250.0" y2="81.0"/>
<line x1="1313.4" y1="557" x2="1313.4" y2="548.0"/>
<line x1="1313.4" y1="75" x2="1313.4" y2="84.0"/>
<line x1="1370.8" y1="557" x2="1370.8" y2="551.0"/>
<line x1="1370.8" y1="75" x2="1370.8" y2="81.0"/>
<line x1="1423.2" y1="557" x2="1423.2" y2="551.0"/>
<line x1="1423.2" y1="75" x2="1423.2" y2="81.0"/>
<line x1="1471.4" y1="557" x2="1471.4" y2="551.0"/>
<line x1="1471.4" y1="75" x2="1471.4" y2="81.0"/>
<line x1="1516.0" y1="557" x2="1516.0" y2="551.0"/>
<line x1="1516.0" y1="75" x2="1516.0" y2="81.0"/>
<line x1="1557.6" y1="557" x2="1557.6" y2="548.0"/>
<line x1="1557.6" y1="75" x2="1557.6" y2="84.0"/>
<line x1="1596.4" y1="557" x2="1596.4" y2="551.0"/>
<line x1="1596.4" y1="75" x2="1596.4" y2="81.0"/>
<line x1="1632.9" y1="557" x2="1632.9" y2="551.0"/>
<line x1="1632.9" y1="75" x2="1632.9" y2="81.0"/>
<line x1="1667.4" y1="557" x2="1667.4" y2="551.0"/>
<line x1="1667.4" y1="75" x2="1667.4" y2="81.0"/>
<line x1="1699.9" y1="557" x2="1699.9" y2="551.0"/>
<line x1="1699.9" y1="75" x2="1699.9" y2="81.0"/>
<line x1="1730.8" y1="557" x2="1730.8" y2="548.0"/>
<line x1="1730.8" y1="75" x2="1730.8" y2="84.0"/>
<line x1="1760.2" y1="557" x2="1760.2" y2="551.0"/>
<line x1="1760.2" y1="75" x2="1760.2" y2="81.0"/>
<line x1="1788.2" y1="557" x2="1788.2" y2="551.0"/>
<line x1="1788.2" y1="75" x2="1788.2" y2="81.0"/>
<line x1="1815.0" y1="557" x2="1815.0" y2="551.0"/>
<line x1="1815.0" y1="75" x2="1815.0" y2="81.0"/>
<line x1="1840.6" y1="557" x2="1840.6" y2="551.0"/>
<line x1="1840.6" y1="75" x2="1840.6" y2="81.0"/>
<line x1="1865.2" y1="557" x2="1865.2" y2="548.0"/>
<line x1="1865.2" y1="75" x2="1865.2" y2="84.0"/>
<line x1="1888.8" y1="557" x2="1888.8" y2="551.0"/>
<line x1="1888.8" y1="75" x2="1888.8" y2="81.0"/>
<line x1="1911.5" y1="557" x2="1911.5" y2="551.0"/>
<line x1="1911.5" y1="75" x2="1911.5" y2="81.0"/>
<line x1="1933.4" y1="557" x2="1933.4" y2="551.0"/>
<line x1="1933.4" y1="75" x2="1933.4" y2="81.0"/>
<line x1="1954.6" y1="557" x2="1954.6" y2="551.0"/>
<line x1="1954.6" y1="75" x2="1954.6" y2="81.0"/>
<line x1="1975.0" y1="557" x2="1975.0" y2="548.0"/>
<line x1="1975.0" y1="75" x2="1975.0" y2="84.0"/>
<line x1="1994.7" y1="557" x2="1994.7" y2="551.0"/>
<line x1="1994.7" y1="75" x2="1994.7" y2="81.0"/>
<line x1="1220" y1="506.7" x2="1226.0" y2="506.7"/>
<line x1="1998.6" y1="506.7" x2="1992.6" y2="506.7"/>
<line x1="1220" y1="470.6" x2="1229.0" y2="470.6"/>
<line x1="1998.6" y1="470.6" x2="1989.6" y2="470.6"/>
<line x1="1220" y1="419.8" x2="1226.0" y2="419.8"/>
<line x1="1998.6" y1="419.8" x2="1992.6" y2="419.8"/>
<line x1="1220" y1="383.7" x2="1226.0" y2="383.7"/>
<line x1="1998.6" y1="383.7" x2="1992.6" y2="383.7"/>
<line x1="1220" y1="355.7" x2="1229.0" y2="355.7"/>
<line x1="1998.6" y1="355.7" x2="1989.6" y2="355.7"/>
<line x1="1220" y1="332.8" x2="1226.0" y2="332.8"/>
<line x1="1998.6" y1="332.8" x2="1992.6" y2="332.8"/>
<line x1="1220" y1="313.5" x2="1226.0" y2="313.5"/>
<line x1="1998.6" y1="313.5" x2="1992.6" y2="313.5"/>
<line x1="1220" y1="296.8" x2="1226.0" y2="296.8"/>
<line x1="1998.6" y1="296.8" x2="1992.6" y2="296.8"/>
<line x1="1220" y1="282.0" x2="1226.0" y2="282.0"/>
<line x1="1998.6" y1="282.0" x2="1992.6" y2="282.0"/>
<line x1="1220" y1="268.8" x2="1229.0" y2="268.8"/>
<line x1="1998.6" y1="268.8" x2="1989.6" y2="268.8"/>
<line x1="1220" y1="218.0" x2="1226.0" y2="218.0"/>
<line x1="1998.6" y1="218.0" x2="1992.6" y2="218.0"/>
<line x1="1220" y1="181.9" x2="1229.0" y2="181.9"/>
<line x1="1998.6" y1="181.9" x2="1989.6" y2="181.9"/>
<line x1="1220" y1="131.1" x2="1226.0" y2="131.1"/>
<line x1="1998.6" y1="131.1" x2="1992.6" y2="131.1"/>
<line x1="1220" y1="95.0" x2="1226.0" y2="95.0"/>
<line x1="1998.6" y1="95.0" x2="1992.6" y2="95.0"/>
</g>
<text x="1313.4" y="590.6" font-size="30" text-anchor="middle">200</text>
<text x="1557.6" y="590.6" font-size="30" text-anchor="middle">300</text>
<text x="1730.8" y="590.6" font-size="30" text-anchor="middle">400</text>
<text x="1865.2" y="590.6" font-size="30" text-anchor="middle">500</text>
<text x="1975.0" y="590.6" font-size="30" text-anchor="middle">600</text>
<text x="1209.5" y="569.6" font-size="30" text-anchor="end">10</text>
<text x="1209.5" y="478.0" font-size="30" text-anchor="end">20</text>
<text x="1209.5" y="366.6" font-size="30" text-anchor="end">50</text>
<text x="1209.5" y="278.2" font-size="30" text-anchor="end">100</text>
<text x="1209.5" y="190.5" font-size="30" text-anchor="end">200</text>
<text transform="translate(1144.2 321.3) rotate(-90)" font-size="29.7" text-anchor="middle">Fifth harmonic intensity (counts)</text>
<text x="1618" y="640.6" font-size="30" text-anchor="middle">Peak intensity (GW cm<tspan font-size="20" dy="-15.5">−2</tspan><tspan dy="15.5">)</tspan></text>
<text x="1486.6" y="21.3" font-size="30" text-anchor="end">Mask damage</text>
<text x="1485.6" y="58.5" font-size="30" text-anchor="end">threshold</text>
<text x="1829.6" y="21.3" font-size="30" text-anchor="end" letter-spacing="-0.2">Metasurface damage</text>
<text x="1830" y="58.5" font-size="30" text-anchor="end">threshold</text>
<line x1="1505.5" y1="3" x2="1505.5" y2="50" stroke="#000" stroke-width="2.2"/>
<path d="M1505.5,59.3 L1499.3,38.8 L1505.5,45 L1511.7,38.8 Z" fill="#000"/>
<line x1="1844.0" y1="3" x2="1844.0" y2="50" stroke="#000" stroke-width="2.2"/>
<path d="M1844.0,59.3 L1837.8,38.8 L1844.0,45 L1850.2,38.8 Z" fill="#000"/>
<text x="1284" y="110" font-size="25">λ<tspan font-size="17" dy="8">res</tspan></text>
<polygon points="1255.9,135.0 1269.3,135.0 1262.6,146.6" fill="#8778b3"/>
<text x="1283" y="146.3" font-size="25.3">4.02 µm</text>
<polygon points="1255.9,173.3 1269.3,173.3 1262.6,161.7" fill="#eb6235"/>
<text x="1283" y="176.5" font-size="25.3">3.93 µm</text>
<rect x="1256.8" y="193.3" width="11.7" height="11.7" fill="#e19c24"/>
<text x="1283" y="206.6" font-size="25.3">3.88 µm</text>
<polygon points="1255.3,229.2 1262.6,222.0 1269.9,229.2 1262.6,236.5" fill="#8fb032"/>
<text x="1283" y="236.8" font-size="25.3">3.82 µm</text>
<circle cx="1262.6" cy="259.4" r="5.3" fill="#5e81b5"/>
<text x="1283" y="266.9" font-size="25.3">3.77 µm</text>
<path d="M1432.1,290.3 C1440,340 1470,410 1514.5,461" fill="none" stroke="#000" stroke-width="1.5" marker-end="url(#ah2)"/>
<text x="1482" y="497.5" font-size="30">Resonance</text>
<text x="1482" y="535" font-size="30">detuning</text>
<g stroke="#000" fill="none">
<rect x="1789.7" y="301.5" width="184.4" height="184.5" stroke-width="1.8"/>
<g stroke-width="1.2">
<line x1="1796.5" y1="486.0" x2="1796.5" y2="482.8"/>
<line x1="1796.5" y1="301.5" x2="1796.5" y2="304.7"/>
<line x1="1803.5" y1="486.0" x2="1803.5" y2="482.8"/>
<line x1="1803.5" y1="301.5" x2="1803.5" y2="304.7"/>
<line x1="1810.4" y1="486.0" x2="1810.4" y2="482.8"/>
<line x1="1810.4" y1="301.5" x2="1810.4" y2="304.7"/>
<line x1="1817.4" y1="486.0" x2="1817.4" y2="480.5"/>
<line x1="1817.4" y1="301.5" x2="1817.4" y2="307.0"/>
<line x1="1824.4" y1="486.0" x2="1824.4" y2="482.8"/>
<line x1="1824.4" y1="301.5" x2="1824.4" y2="304.7"/>
<line x1="1831.3" y1="486.0" x2="1831.3" y2="482.8"/>
<line x1="1831.3" y1="301.5" x2="1831.3" y2="304.7"/>
<line x1="1838.3" y1="486.0" x2="1838.3" y2="482.8"/>
<line x1="1838.3" y1="301.5" x2="1838.3" y2="304.7"/>
<line x1="1845.2" y1="486.0" x2="1845.2" y2="482.8"/>
<line x1="1845.2" y1="301.5" x2="1845.2" y2="304.7"/>
<line x1="1852.2" y1="486.0" x2="1852.2" y2="480.5"/>
<line x1="1852.2" y1="301.5" x2="1852.2" y2="307.0"/>
<line x1="1859.2" y1="486.0" x2="1859.2" y2="482.8"/>
<line x1="1859.2" y1="301.5" x2="1859.2" y2="304.7"/>
<line x1="1866.1" y1="486.0" x2="1866.1" y2="482.8"/>
<line x1="1866.1" y1="301.5" x2="1866.1" y2="304.7"/>
<line x1="1873.1" y1="486.0" x2="1873.1" y2="482.8"/>
<line x1="1873.1" y1="301.5" x2="1873.1" y2="304.7"/>
<line x1="1880.0" y1="486.0" x2="1880.0" y2="482.8"/>
<line x1="1880.0" y1="301.5" x2="1880.0" y2="304.7"/>
<line x1="1887.0" y1="486.0" x2="1887.0" y2="480.5"/>
<line x1="1887.0" y1="301.5" x2="1887.0" y2="307.0"/>
<line x1="1894.0" y1="486.0" x2="1894.0" y2="482.8"/>
<line x1="1894.0" y1="301.5" x2="1894.0" y2="304.7"/>
<line x1="1900.9" y1="486.0" x2="1900.9" y2="482.8"/>
<line x1="1900.9" y1="301.5" x2="1900.9" y2="304.7"/>
<line x1="1907.9" y1="486.0" x2="1907.9" y2="482.8"/>
<line x1="1907.9" y1="301.5" x2="1907.9" y2="304.7"/>
<line x1="1914.8" y1="486.0" x2="1914.8" y2="482.8"/>
<line x1="1914.8" y1="301.5" x2="1914.8" y2="304.7"/>
<line x1="1921.8" y1="486.0" x2="1921.8" y2="480.5"/>
<line x1="1921.8" y1="301.5" x2="1921.8" y2="307.0"/>
<line x1="1928.8" y1="486.0" x2="1928.8" y2="482.8"/>
<line x1="1928.8" y1="301.5" x2="1928.8" y2="304.7"/>
<line x1="1935.7" y1="486.0" x2="1935.7" y2="482.8"/>
<line x1="1935.7" y1="301.5" x2="1935.7" y2="304.7"/>
<line x1="1942.7" y1="486.0" x2="1942.7" y2="482.8"/>
<line x1="1942.7" y1="301.5" x2="1942.7" y2="304.7"/>
<line x1="1949.6" y1="486.0" x2="1949.6" y2="482.8"/>
<line x1="1949.6" y1="301.5" x2="1949.6" y2="304.7"/>
<line x1="1956.6" y1="486.0" x2="1956.6" y2="480.5"/>
<line x1="1956.6" y1="301.5" x2="1956.6" y2="307.0"/>
<line x1="1963.6" y1="486.0" x2="1963.6" y2="482.8"/>
<line x1="1963.6" y1="301.5" x2="1963.6" y2="304.7"/>
<line x1="1970.5" y1="486.0" x2="1970.5" y2="482.8"/>
<line x1="1970.5" y1="301.5" x2="1970.5" y2="304.7"/>
<line x1="1789.7" y1="484.1" x2="1795.2" y2="484.1"/>
<line x1="1974.1" y1="484.1" x2="1968.6" y2="484.1"/>
<line x1="1789.7" y1="473.3" x2="1792.9" y2="473.3"/>
<line x1="1974.1" y1="473.3" x2="1970.9" y2="473.3"/>
<line x1="1789.7" y1="462.5" x2="1792.9" y2="462.5"/>
<line x1="1974.1" y1="462.5" x2="1970.9" y2="462.5"/>
<line x1="1789.7" y1="451.7" x2="1792.9" y2="451.7"/>
<line x1="1974.1" y1="451.7" x2="1970.9" y2="451.7"/>
<line x1="1789.7" y1="440.9" x2="1792.9" y2="440.9"/>
<line x1="1974.1" y1="440.9" x2="1970.9" y2="440.9"/>
<line x1="1789.7" y1="430.1" x2="1795.2" y2="430.1"/>
<line x1="1974.1" y1="430.1" x2="1968.6" y2="430.1"/>
<line x1="1789.7" y1="419.3" x2="1792.9" y2="419.3"/>
<line x1="1974.1" y1="419.3" x2="1970.9" y2="419.3"/>
<line x1="1789.7" y1="408.5" x2="1792.9" y2="408.5"/>
<line x1="1974.1" y1="408.5" x2="1970.9" y2="408.5"/>
<line x1="1789.7" y1="397.7" x2="1792.9" y2="397.7"/>
<line x1="1974.1" y1="397.7" x2="1970.9" y2="397.7"/>
<line x1="1789.7" y1="386.9" x2="1792.9" y2="386.9"/>
<line x1="1974.1" y1="386.9" x2="1970.9" y2="386.9"/>
<line x1="1789.7" y1="376.1" x2="1795.2" y2="376.1"/>
<line x1="1974.1" y1="376.1" x2="1968.6" y2="376.1"/>
<line x1="1789.7" y1="365.3" x2="1792.9" y2="365.3"/>
<line x1="1974.1" y1="365.3" x2="1970.9" y2="365.3"/>
<line x1="1789.7" y1="354.5" x2="1792.9" y2="354.5"/>
<line x1="1974.1" y1="354.5" x2="1970.9" y2="354.5"/>
<line x1="1789.7" y1="343.7" x2="1792.9" y2="343.7"/>
<line x1="1974.1" y1="343.7" x2="1970.9" y2="343.7"/>
<line x1="1789.7" y1="332.9" x2="1792.9" y2="332.9"/>
<line x1="1974.1" y1="332.9" x2="1970.9" y2="332.9"/>
<line x1="1789.7" y1="322.1" x2="1795.2" y2="322.1"/>
<line x1="1974.1" y1="322.1" x2="1968.6" y2="322.1"/>
<line x1="1789.7" y1="311.3" x2="1792.9" y2="311.3"/>
<line x1="1974.1" y1="311.3" x2="1970.9" y2="311.3"/>
</g></g>
<text x="1783" y="491.1" font-size="22.5" text-anchor="end">0</text>
<text x="1783" y="437.1" font-size="22.5" text-anchor="end">1</text>
<text x="1783" y="383.1" font-size="22.5" text-anchor="end">2</text>
<text x="1783" y="329.1" font-size="22.5" text-anchor="end">3</text>
<text x="1818.4" y="513" font-size="22.5" text-anchor="middle">3.8</text>
<text x="1888.0" y="513" font-size="22.5" text-anchor="middle">3.9</text>
<text x="1957.6" y="513" font-size="22.5" text-anchor="middle">4.0</text>
<text transform="translate(1760 401) rotate(-90)" font-size="22.8" text-anchor="middle">H5 growth exponent</text>
<text x="1838.5" y="538.5" font-size="26"><tspan font-style="italic">λ</tspan><tspan font-size="17.5" dy="7.5">res</tspan><tspan dy="-7.5"> (µm)</tspan></text>
<g stroke="#000" stroke-width="1.9">
<line x1="1796.5" y1="310.1" x2="1796.5" y2="350.3"/>
<line x1="1789.0" y1="310.1" x2="1804.0" y2="310.1"/>
<line x1="1789.0" y1="350.3" x2="1804.0" y2="350.3"/>
<line x1="1831.3" y1="341.8" x2="1831.3" y2="356.9"/>
<line x1="1823.8" y1="341.8" x2="1838.8" y2="341.8"/>
<line x1="1823.8" y1="356.9" x2="1838.8" y2="356.9"/>
<line x1="1873.1" y1="343.8" x2="1873.1" y2="352.7"/>
<line x1="1865.6" y1="343.8" x2="1880.6" y2="343.8"/>
<line x1="1865.6" y1="352.7" x2="1880.6" y2="352.7"/>
<line x1="1907.9" y1="386.4" x2="1907.9" y2="394.9"/>
<line x1="1900.4" y1="386.4" x2="1915.4" y2="386.4"/>
<line x1="1900.4" y1="394.9" x2="1915.4" y2="394.9"/>
<line x1="1970.5" y1="429.1" x2="1970.5" y2="438.8"/>
<line x1="1963.0" y1="429.1" x2="1978.0" y2="429.1"/>
<line x1="1963.0" y1="438.8" x2="1978.0" y2="438.8"/>
</g>
<circle cx="1796.5" cy="331.6" r="4.6" fill="#000"/>
<circle cx="1831.3" cy="349.9" r="4.6" fill="#000"/>
<circle cx="1873.1" cy="348.3" r="4.6" fill="#000"/>
<circle cx="1907.9" cy="390.4" r="4.6" fill="#000"/>
<circle cx="1970.5" cy="434.6" r="4.6" fill="#000"/>
</g>
</svg></body></html>
